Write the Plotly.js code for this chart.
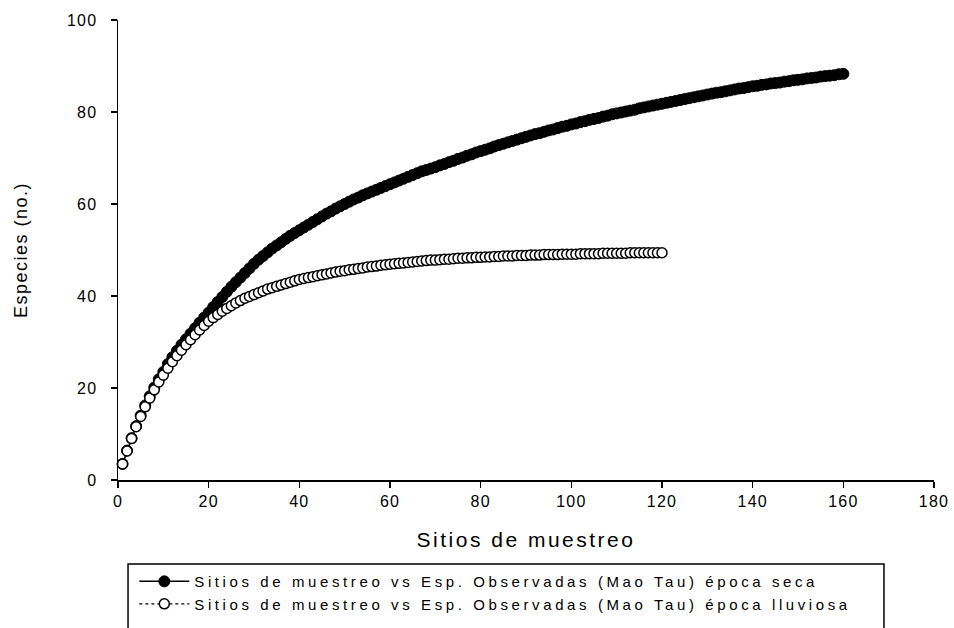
<!DOCTYPE html>
<html>
<head>
<meta charset="utf-8">
<script src="https://cdn.plot.ly/plotly-3.0.1.min.js"></script>
<style>
  html, body { margin: 0; padding: 0; background: #fff; }
  #chart { width: 954px; height: 628px; }
  .legendtext { letter-spacing: 3.6px; }
  .xtitle { letter-spacing: 2.5px; }
  .ytitle { letter-spacing: 1.5px; }
  g.xtick > text, g.ytick > text { letter-spacing: 1.2px; }
</style>
</head>
<body>
<div id="chart"></div>
<script>
// Sitios de muestreo (x) for each series
const sitesSeca = Array.from({length: 160}, (_, i) => i + 1);
const sitesLluviosa = Array.from({length: 120}, (_, i) => i + 1);

// Esp. Observadas (Mao Tau) época seca
const especiesSeca = [
  3.5, 6.4, 9.1, 11.7, 14.0, 16.2, 18.2, 20.1, 21.9, 23.5,
  25.2, 26.7, 28.1, 29.4, 30.6, 31.8, 33.0, 34.2, 35.3, 36.4,
  37.6, 38.7, 39.8, 40.9, 42.0, 43.0, 44.0, 45.0, 46.0, 47.0,
  47.9, 48.7, 49.5, 50.3, 51.0, 51.7, 52.4, 53.1, 53.7, 54.3,
  54.9, 55.5, 56.1, 56.7, 57.3, 57.9, 58.4, 59.0, 59.5, 60.0,
  60.5, 61.0, 61.4, 61.9, 62.3, 62.7, 63.1, 63.5, 63.9, 64.3,
  64.7, 65.1, 65.5, 65.9, 66.3, 66.7, 67.1, 67.4, 67.7, 68.0,
  68.4, 68.7, 69.1, 69.4, 69.8, 70.1, 70.5, 70.8, 71.2, 71.5,
  71.8, 72.1, 72.5, 72.8, 73.1, 73.4, 73.7, 74.0, 74.3, 74.6,
  74.9, 75.2, 75.4, 75.7, 76.0, 76.2, 76.5, 76.8, 77.0, 77.3,
  77.5, 77.8, 78.0, 78.3, 78.5, 78.7, 79.0, 79.2, 79.5, 79.7,
  79.9, 80.1, 80.3, 80.5, 80.8, 81.0, 81.2, 81.4, 81.6, 81.8,
  82.0, 82.2, 82.4, 82.6, 82.8, 83.0, 83.2, 83.4, 83.6, 83.8,
  84.0, 84.2, 84.3, 84.5, 84.7, 84.9, 85.1, 85.2, 85.4, 85.6,
  85.7, 85.9, 86.0, 86.2, 86.3, 86.4, 86.6, 86.7, 86.9, 87.0,
  87.1, 87.3, 87.4, 87.5, 87.7, 87.8, 87.9, 88.0, 88.2, 88.3
];

// Esp. Observadas (Mao Tau) época lluviosa
const especiesLluviosa = [
  3.5, 6.3, 9.0, 11.6, 13.8, 15.9, 17.8, 19.6, 21.3, 22.8,
  24.3, 25.7, 27.0, 28.2, 29.4, 30.5, 31.6, 32.6, 33.6, 34.5,
  35.3, 36.0, 36.7, 37.3, 37.9, 38.5, 39.0, 39.5, 39.9, 40.3,
  40.7, 41.1, 41.5, 41.8, 42.1, 42.4, 42.7, 43.0, 43.3, 43.6,
  43.8, 44.0, 44.2, 44.4, 44.6, 44.8, 45.0, 45.2, 45.4, 45.5,
  45.7, 45.8, 46.0, 46.1, 46.3, 46.4, 46.5, 46.7, 46.8, 46.9,
  47.0, 47.1, 47.2, 47.3, 47.4, 47.5, 47.6, 47.7, 47.8, 47.8,
  47.9, 48.0, 48.0, 48.1, 48.2, 48.2, 48.3, 48.3, 48.4, 48.4,
  48.5, 48.5, 48.6, 48.6, 48.7, 48.7, 48.7, 48.8, 48.8, 48.8,
  48.9, 48.9, 48.9, 49.0, 49.0, 49.0, 49.0, 49.1, 49.1, 49.1,
  49.1, 49.2, 49.2, 49.2, 49.2, 49.2, 49.3, 49.3, 49.3, 49.3,
  49.3, 49.3, 49.4, 49.4, 49.4, 49.4, 49.4, 49.4, 49.4, 49.4
];

const seriesNames = [
  "Sitios de muestreo vs Esp. Observadas (Mao Tau) época seca",
  "Sitios de muestreo vs Esp. Observadas (Mao Tau) época lluviosa"
];
const xTickVals = [0, 20, 40, 60, 80, 100, 120, 140, 160, 180];
const yTickVals = [0, 20, 40, 60, 80, 100];
const xTitle = "Sitios de muestreo";
const yTitle = "Especies (no.)";

const FONT = "Liberation Sans, Arial, sans-serif";

const traces = [
  {
    x: sitesSeca, y: especiesSeca, name: seriesNames[0],
    type: "scatter", mode: "lines+markers",
    line: {color: "#000", width: 1.5},
    marker: {symbol: "circle", size: 11, color: "#000", line: {color: "#000", width: 1}},
    cliponaxis: false
  },
  {
    x: sitesLluviosa, y: especiesLluviosa, name: seriesNames[1],
    type: "scatter", mode: "lines+markers",
    line: {color: "#000", width: 1.2, dash: "dot"},
    marker: {symbol: "circle", size: 10, color: "#fff", line: {color: "#000", width: 1.5}},
    cliponaxis: false
  }
];

const layout = {
  width: 954, height: 628,
  paper_bgcolor: "#fff", plot_bgcolor: "#fff",
  margin: {l: 118, r: 20, t: 20, b: 148, autoexpand: false},
  font: {family: FONT, color: "#000"},
  showlegend: true,
  legend: {
    x: 0.02, y: -0.185, xanchor: "left", yanchor: "top",
    bgcolor: "rgba(0,0,0,0)", borderwidth: 0,
    font: {family: FONT, size: 15, color: "#000"},
    itemwidth: 50, tracegroupgap: 0
  },
  xaxis: {
    range: [0, 180], tickvals: xTickVals, ticktext: xTickVals.map(String),
    showgrid: false, zeroline: false,
    showline: true, linecolor: "#000", linewidth: 1.5,
    ticks: "outside", ticklen: 6, tickwidth: 1.5, tickcolor: "#000",
    tickfont: {family: FONT, size: 16, color: "#000"},
    title: {text: xTitle, font: {family: FONT, size: 21, color: "#000"}, standoff: 23},
    fixedrange: true
  },
  yaxis: {
    range: [0, 100], tickvals: yTickVals, ticktext: yTickVals.map(String),
    showgrid: false, zeroline: false,
    showline: true, linecolor: "#000", linewidth: 1.5,
    ticks: "outside", ticklen: 6, tickwidth: 1.5, tickcolor: "#000",
    tickfont: {family: FONT, size: 16, color: "#000"},
    ticklabelstandoff: 10,
    title: {text: yTitle, font: {family: FONT, size: 18, color: "#000"}, standoff: 34},
    fixedrange: true
  },
  shapes: [
    {type: "rect", xref: "paper", yref: "paper",
     x0: 0.0123, x1: 0.9387, y0: -0.1826, y1: -0.36,
     line: {color: "#000", width: 1.5}, fillcolor: "rgba(0,0,0,0)", layer: "below"}
  ]
};

Plotly.newPlot("chart", traces, layout, {displayModeBar: false, staticPlot: true});
</script>
</body>
</html>
